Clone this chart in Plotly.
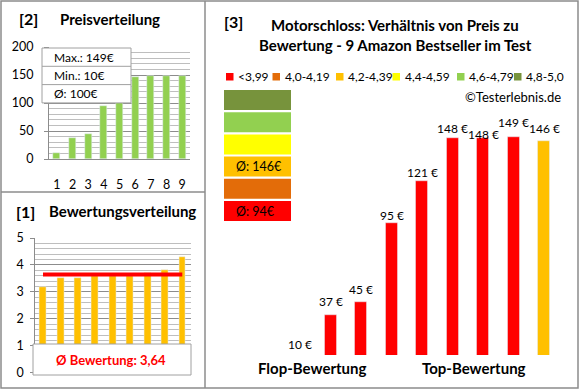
import plotly.graph_objects as go

# ---------------- data ----------------
categories = [1, 2, 3, 4, 5, 6, 7, 8, 9]
prices_sorted = [10, 37, 45, 95, 121, 146, 148, 148, 149]          # panel [2]
ratings_sorted = [3.2, 3.5, 3.5, 3.6, 3.6, 3.6, 3.7, 3.8, 4.3]      # panel [1]
prices_by_rating = [10, 37, 45, 95, 121, 148, 148, 149, 146]        # panel [3]
ratings_by_rating = [3.2, 3.5, 3.5, 3.6, 3.6, 3.6, 3.7, 3.8, 4.3]
rating_ticks = [0, 1, 2, 3, 4, 5]
legend_labels = ["<3,99", "4,0-4,19", "4,2-4,39", "4,4-4,59", "4,6-4,79", "4,8-5,0"]
legend_bounds = [4.0, 4.2, 4.4, 4.6, 4.8, 5.01]

# ---------------- styles ----------------
W, H = 580, 390
FONT = "Lato"
band_colors = ["#FF0000", "#E36C09", "#FFC000", "#FFFF00", "#92D050", "#77933C"]
GRID_MAJOR = "#8C8C8C"
GRID_MINOR = "#BEBEBE"
BOX_LINE = "#A0A0A0"
BORDER = "#8C8C8C"
label_shift = [11, 14, 13, 7, 9, 10, 4, 14, 13]


def px(x):
    return x / W


def py(y):
    return 1 - y / H


def band_index(r):
    for i, b in enumerate(legend_bounds):
        if r < b:
            return i
    return len(legend_bounds) - 1


avg_price = sum(prices_sorted) / len(prices_sorted)
avg_rating = sum(ratings_sorted) / len(ratings_sorted)
bar_colors3 = [band_colors[band_index(r)] for r in ratings_by_rating]

fig = go.Figure()

# panel [2] price distribution
fig.add_trace(go.Bar(x=categories, y=prices_sorted, marker_color="#92D050",
                     width=0.45, xaxis="x", yaxis="y", hoverinfo="skip"))
# panel [1] rating distribution
fig.add_trace(go.Bar(x=categories, y=ratings_sorted, marker_color="#FFC000",
                     width=0.4, xaxis="x2", yaxis="y2", hoverinfo="skip"))
fig.add_trace(go.Scatter(x=[categories[0], categories[-1]], y=[avg_rating, avg_rating],
                         mode="lines", line=dict(color="#FF0000", width=4),
                         xaxis="x2", yaxis="y2", hoverinfo="skip"))
# panel [3] price vs rating
Y3MIN = 12
fig.add_trace(go.Bar(x=categories, y=prices_by_rating, marker_color=bar_colors3,
                     width=0.39, xaxis="x3", yaxis="y3", hoverinfo="skip"))

annotations = []
shapes = []

for c, v, s in zip(categories, prices_by_rating, label_shift):
    annotations.append(dict(x=c, y=max(v, Y3MIN), xref="x3", yref="y3", text=f"{v} €",
                            showarrow=False, yanchor="middle", yshift=s,
                            font=dict(family=FONT, size=12, color="#000")))

axis_font = dict(family=FONT, size=12.5, color="#000")

fig.update_layout(
    width=W, height=H, margin=dict(l=0, r=0, t=0, b=0, pad=0, autoexpand=False),
    autosize=False,
    paper_bgcolor="white", plot_bgcolor="rgba(0,0,0,0)", showlegend=False,
    bargap=0,
    xaxis=dict(domain=[px(49), px(190)], range=[0.5, 9.5], tickvals=categories,
               ticks="", showgrid=False, showline=True, linecolor=GRID_MAJOR,
               tickfont=axis_font, ticklabelstandoff=14, zeroline=False,
               automargin=False, anchor="y"),
    yaxis=dict(domain=[py(159), py(47)], range=[0, 200], dtick=50, tickfont=axis_font,
               showgrid=True, gridcolor=GRID_MAJOR, showline=True, linecolor=GRID_MAJOR,
               ticks="outside", ticklen=4, tickcolor=GRID_MAJOR, ticklabelstandoff=8,
               zeroline=False, anchor="x", automargin=False,
               minor=dict(dtick=10, showgrid=True, gridcolor=GRID_MINOR, ticks="")),
    xaxis2=dict(domain=[px(34.3), px(191)], range=[0.5, 9.5], visible=False,
                anchor="y2", automargin=False),
    yaxis2=dict(domain=[py(373.5), py(238)], range=[-0.02, 5], tickvals=rating_ticks,
                tickfont=axis_font, ticklabeloverflow="allow",
                showgrid=True, gridcolor=GRID_MAJOR, showline=True, linecolor=GRID_MAJOR,
                ticks="outside", ticklen=4, tickcolor=GRID_MAJOR, ticklabelstandoff=4,
                zeroline=False, anchor="free", position=px(34.3), automargin=False,
                minor=dict(tick0=0, dtick=0.2, showgrid=True, gridcolor=GRID_MINOR, ticks="")),
    xaxis3=dict(domain=[px(284.75), px(559.25)], range=[0.5, 9.5], visible=False,
                anchor="y3", automargin=False),
    yaxis3=dict(domain=[py(355), py(119)], range=[Y3MIN, 160], visible=False, anchor="x3",
                automargin=False),
)

# price summary box (panel 2)
bx0, bx1, by0 = 42, 131, 48
row_h = 18.3
shapes.append(dict(type="rect", xref="paper", yref="paper", x0=px(bx0), x1=px(bx1),
                   y0=py(by0), y1=py(by0 + 3 * row_h), fillcolor="white",
                   line=dict(color=BOX_LINE, width=1)))
for k in (1, 2):
    shapes.append(dict(type="line", xref="paper", yref="paper", x0=px(bx0), x1=px(bx1),
                       y0=py(by0 + k * row_h), y1=py(by0 + k * row_h),
                       line=dict(color=BOX_LINE, width=1)))
box_texts = [f"Max.: {max(prices_sorted)}€", f"Min.: {min(prices_sorted)}€",
             f"Ø: {avg_price:.0f}€"]
for k, t in enumerate(box_texts):
    annotations.append(dict(x=px(52), y=py(by0 + (k + 0.5) * row_h), xref="paper",
                            yref="paper", text=t, showarrow=False, xanchor="left",
                            yanchor="middle", font=dict(family=FONT, size=12, color="#000")))

# rating average box (panel 1)
shapes.append(dict(type="rect", xref="paper", yref="paper", x0=px(33), x1=px(191),
                   y0=py(344), y1=py(375), fillcolor="white",
                   line=dict(color=BOX_LINE, width=1)))
annotations.append(dict(x=px(111), y=py(359.5), xref="paper", yref="paper",
                        xanchor="center", yanchor="middle",
                        text="<b>Ø Bewertung: " + f"{avg_rating:.2f}".replace(".", ",") + "</b>",
                        showarrow=False, font=dict(family=FONT, size=13, color="#FF0000")))

# legend (panel 3)
leg_x = [226, 272.5, 336, 392.5, 457, 514]
for xx, lab, col in zip(leg_x, legend_labels, band_colors):
    shapes.append(dict(type="rect", xref="paper", yref="paper", x0=px(xx), x1=px(xx + 7.5),
                       y0=py(73), y1=py(80.5), fillcolor=col, line=dict(width=0)))
    annotations.append(dict(x=px(xx + 10), y=py(77), xref="paper", yref="paper",
                            text=lab, showarrow=False, xanchor="left", yanchor="middle",
                            font=dict(family=FONT, size=12, color="#000")))

# colour band boxes with averages (panel 3)
box_top, box_h, box_gap = 90, 20, 2.2
for j in range(6):
    band = 5 - j
    y0 = box_top + j * (box_h + box_gap)
    shapes.append(dict(type="rect", xref="paper", yref="paper", x0=px(224), x1=px(291),
                       y0=py(y0), y1=py(y0 + box_h), fillcolor=band_colors[band],
                       line=dict(width=0)))
    vals = [p for p, r in zip(prices_by_rating, ratings_by_rating) if band_index(r) == band]
    if vals:
        annotations.append(dict(x=px(234), y=py(y0 + box_h / 2), xref="paper", yref="paper",
                                text=f"Ø: {sum(vals) / len(vals):.0f}€", showarrow=False,
                                xanchor="left", yanchor="middle",
                                font=dict(family=FONT, size=12.5, color="#000")))


# titles
def txt(x, y, t, size, bold=True, anchor="left", color="#000"):
    annotations.append(dict(x=px(x), y=py(y), xref="paper", yref="paper",
                            text=f"<b>{t}</b>" if bold else t, showarrow=False,
                            xanchor=anchor, yanchor="middle",
                            font=dict(family=FONT, size=size, color=color)))


txt(17, 18, "[2]", 16)
txt(58, 19, "Preisverteilung", 15)
txt(14, 211, "[1]", 16)
txt(47, 211, "Bewertungsverteilung", 15)
txt(222, 21, "[3]", 16)
txt(395, 25, "Motorschloss: Verhältnis von Preis zu", 15, anchor="center")
txt(395, 45, "Bewertung - 9 Amazon Bestseller im Test", 15, anchor="center")
txt(563, 97, "©Testerlebnis.de", 13, bold=False, anchor="right")
txt(312, 368, "Flop-Bewertung", 15, anchor="center")
txt(474, 368, "Top-Bewertung", 15, anchor="center")

# panel borders
shapes.append(dict(type="rect", xref="paper", yref="paper", x0=px(1), x1=px(578),
                   y0=py(1), y1=py(388), line=dict(color=BORDER, width=1.5)))
shapes.append(dict(type="line", xref="paper", yref="paper", x0=px(205), x1=px(205),
                   y0=py(1), y1=py(388), line=dict(color=BORDER, width=1.5)))
shapes.append(dict(type="line", xref="paper", yref="paper", x0=px(1), x1=px(205),
                   y0=py(192), y1=py(192), line=dict(color=BORDER, width=1.5)))

fig.update_layout(shapes=shapes, annotations=annotations)
fig.write_html("out.html", config={"displayModeBar": False},
               post_script="document.body.style.margin='0';")
